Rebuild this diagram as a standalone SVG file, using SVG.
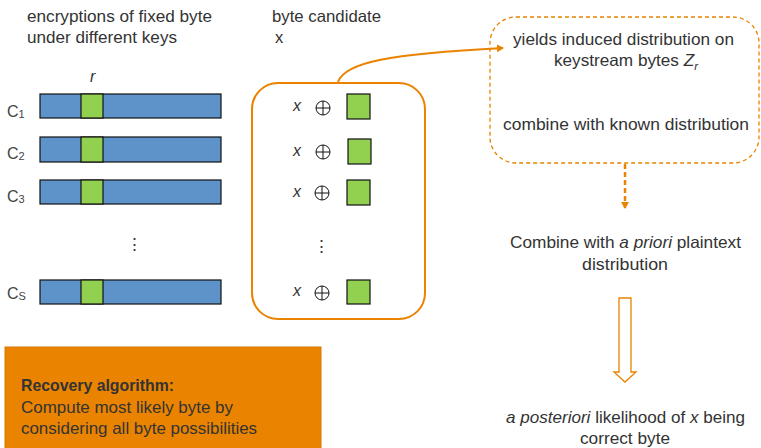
<svg xmlns="http://www.w3.org/2000/svg" width="761" height="448" viewBox="0 0 761 448">
<defs>
<style>
text{font-family:"Liberation Sans",Arial,sans-serif;font-size:16.5px;fill:#333}
.bar{fill:#5E93C9;stroke:#111;stroke-width:1.2}
.g{fill:#92D050;stroke:#111;stroke-width:1.2}
.lbl{font-size:16px;fill:#444}
.ix{font-style:italic;font-size:16px}
.ox{fill:none;stroke:#111;stroke-width:1}
.c{text-anchor:middle}
</style>
<marker id="ah" markerWidth="8" markerHeight="8" refX="6" refY="4" orient="auto" markerUnits="userSpaceOnUse">
<path d="M0,0 L7,4 L0,8 z" fill="#E98300"/>
</marker>
<g id="oplus"><circle cx="0" cy="0" r="7" class="ox"/><path d="M-7,0H7M0,-7V7" class="ox"/></g>
</defs>
<rect width="761" height="448" fill="#fff"/>

<g id="header">
<text x="27" y="22" textLength="185" lengthAdjust="spacingAndGlyphs">encryptions of fixed byte</text>
<text x="27" y="43" textLength="150" lengthAdjust="spacingAndGlyphs">under different keys</text>
<text x="272" y="22" textLength="109" lengthAdjust="spacingAndGlyphs">byte candidate</text>
<text x="275" y="43">x</text>
<text x="90" y="82" class="ix" font-size="14">r</text>
</g>

<g id="c1"><text x="7" y="117" class="lbl">C<tspan font-size="11" dy="1">1</tspan></text><rect x="40" y="94" width="181" height="24" class="bar"/><rect x="81" y="94" width="22" height="24" class="g"/></g>
<g id="c2"><text x="7" y="159" class="lbl">C<tspan font-size="11" dy="1">2</tspan></text><rect x="40" y="137" width="181" height="25" class="bar"/><rect x="81" y="137" width="22" height="25" class="g"/></g>
<g id="c3"><text x="7" y="202" class="lbl">C<tspan font-size="11" dy="1">3</tspan></text><rect x="40" y="180" width="181" height="24" class="bar"/><rect x="81" y="180" width="22" height="24" class="g"/></g>
<g id="dots1"><text x="134" y="250" class="c" font-size="13">⋮</text></g>
<g id="cs"><text x="7" y="299" class="lbl">C<tspan font-size="11" dy="1">S</tspan></text><rect x="40" y="280" width="181" height="24" class="bar"/><rect x="81" y="280" width="22" height="24" class="g"/></g>

<g id="xorbox">
<rect x="252" y="83" width="173" height="236" rx="26" fill="#fff" stroke="#E98300" stroke-width="2"/>
<text x="297" y="111" class="ix c">x</text><use href="#oplus" x="323" y="108"/><rect x="347" y="94" width="23" height="25" class="g"/>
<text x="297" y="156" class="ix c">x</text><use href="#oplus" x="323" y="152"/><rect x="348" y="139" width="23" height="25" class="g"/>
<text x="297" y="197" class="ix c">x</text><use href="#oplus" x="322" y="193"/><rect x="347" y="180" width="23" height="25" class="g"/>
<text x="321" y="252" class="c" font-size="13">⋮</text>
<text x="297" y="296" class="ix c">x</text><use href="#oplus" x="322" y="293"/><rect x="347" y="280" width="23" height="24" class="g"/>
</g>

<g id="distbox">
<rect x="490" y="17" width="269" height="146" rx="26" fill="#fff" stroke="#E98300" stroke-width="1.3" stroke-dasharray="4,3"/>
<text x="623.5" y="45" class="c" textLength="221" lengthAdjust="spacingAndGlyphs">yields induced distribution on</text>
<text x="626" y="66" class="c" textLength="144" lengthAdjust="spacingAndGlyphs">keystream bytes <tspan font-style="italic">Z</tspan><tspan font-style="italic" font-size="11" dy="4">r</tspan></text>
<text x="626" y="130" class="c" textLength="246" lengthAdjust="spacingAndGlyphs">combine with known distribution</text>
</g>

<g id="combine">
<text x="625.5" y="248" class="c" textLength="231" lengthAdjust="spacingAndGlyphs">Combine with <tspan font-style="italic">a priori</tspan> plaintext</text>
<text x="625" y="270" class="c" textLength="86" lengthAdjust="spacingAndGlyphs">distribution</text>
</g>

<g id="posterior">
<text x="625.5" y="423" class="c" textLength="239" lengthAdjust="spacingAndGlyphs"><tspan font-style="italic">a posteriori</tspan> likelihood of <tspan font-style="italic">x</tspan> being</text>
<text x="625" y="444" class="c" textLength="90" lengthAdjust="spacingAndGlyphs">correct byte</text>
</g>

<g id="recovery">
<rect x="5" y="347" width="316" height="110" fill="#E98300" stroke="#d77800" stroke-width="1"/>
<text x="21" y="391" font-weight="bold" fill="#222" textLength="153" lengthAdjust="spacingAndGlyphs">Recovery algorithm:</text>
<text x="21" y="413" fill="#222" textLength="212" lengthAdjust="spacingAndGlyphs">Compute most likely byte by</text>
<text x="21" y="434" fill="#222" textLength="236" lengthAdjust="spacingAndGlyphs">considering all byte possibilities</text>
</g>

<g id="connectors">
<path d="M338,82 C345,62 390,54 503,48" fill="none" stroke="#E98300" stroke-width="2" marker-end="url(#ah)"/>
<path d="M625,164 V208" fill="none" stroke="#E98300" stroke-width="2.5" stroke-dasharray="5,3" marker-end="url(#ah)"/>
<path d="M619,298 H631 V372 H636 L625,382 L614,372 H619 Z" fill="#fff" stroke="#E98300" stroke-width="1.3"/>
</g>
</svg>
